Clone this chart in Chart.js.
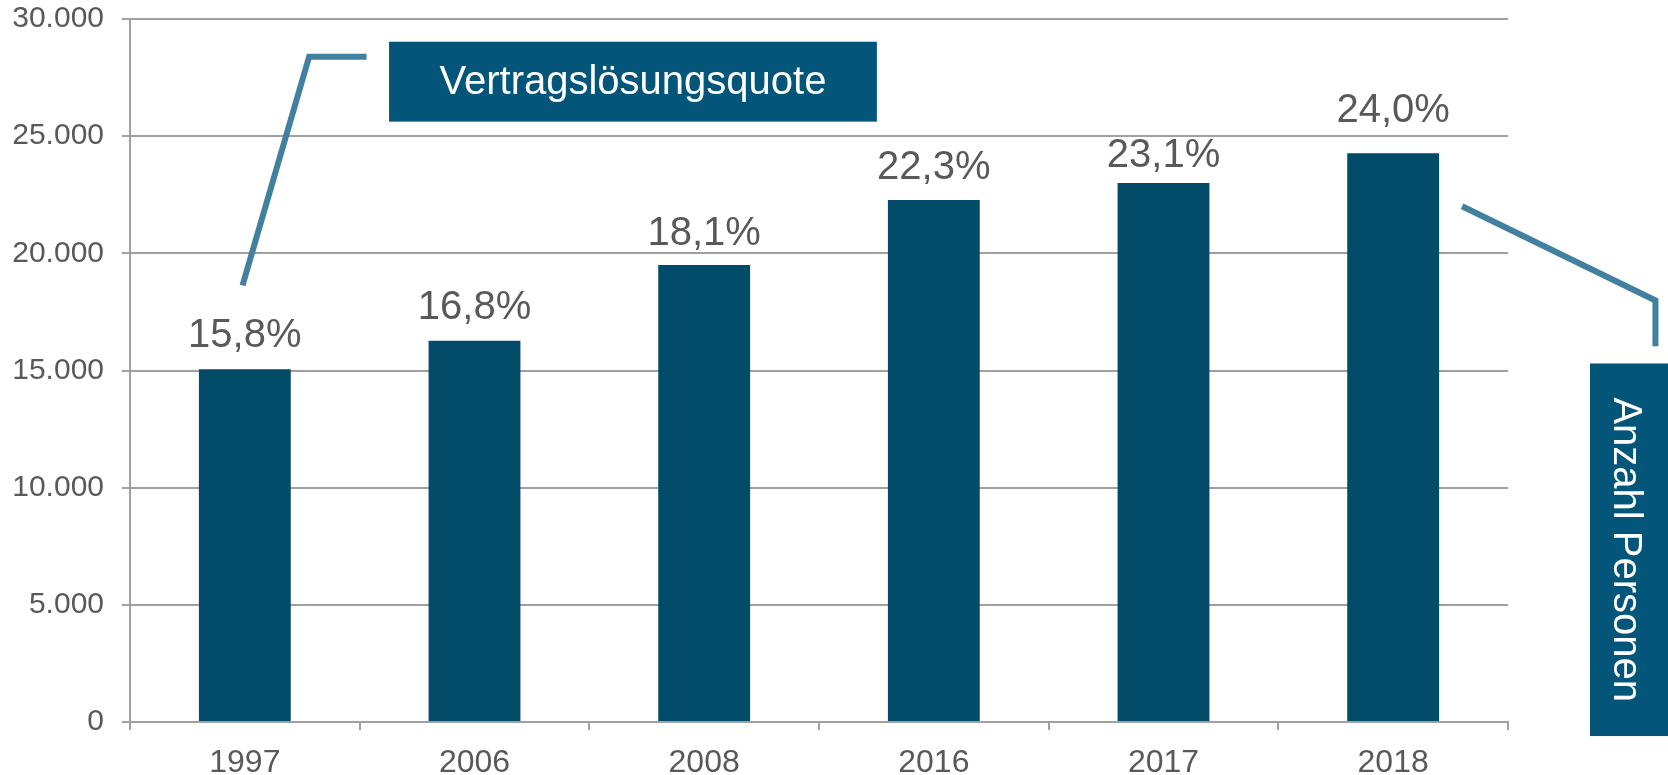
<!DOCTYPE html>
<html>
<head>
<meta charset="utf-8">
<script src="https://cdn.jsdelivr.net/npm/chart.js@4.4.1/dist/chart.umd.min.js"></script>
<style>
  html, body { margin: 0; padding: 0; background: #fff; }
  canvas { display: block; }
</style>
</head>
<body>
<canvas id="chart" width="1668" height="775"></canvas>
<script>
var jahre = ['1997', '2006', '2008', '2016', '2017', '2018'];
var anzahlPersonen = [15050, 16270, 19500, 22280, 23000, 24270];
var quote = [15.8, 16.8, 18.1, 22.3, 23.1, 24.0];
var yTicks = [0, 5000, 10000, 15000, 20000, 25000, 30000];

var FONT = '"Liberation Sans", Arial, sans-serif';
var GRAU = '#a0a0a0';

// Prozentwerte ueber den Balken
var quotenLabels = {
    id: 'quotenLabels',
    afterDatasetsDraw: function (chart, args, opts) {
        var ctx = chart.ctx;
        var meta = chart.getDatasetMeta(0);
        ctx.save();
        ctx.font = '40px ' + FONT;
        ctx.fillStyle = '#595959';
        ctx.textAlign = 'center';
        ctx.textBaseline = 'alphabetic';
        meta.data.forEach(function (bar, i) {
            var txt = quote[i].toFixed(1).replace('.', ',') + '%';
            ctx.fillText(txt, bar.x, bar.y - opts.gap[i]);
        });
        ctx.restore();
    }
};

// Beschriftungskaesten mit Linien
var callouts = {
    id: 'callouts',
    afterDraw: function (chart) {
        var ctx = chart.ctx;
        var x = chart.scales.x, y = chart.scales.y;
        function px(i) { return x.getPixelForValue(i); }
        function py(v) { return y.getPixelForValue(v); }

        ctx.save();
        ctx.strokeStyle = '#41809f';
        ctx.lineWidth = 6;
        ctx.lineJoin = 'miter';

        ctx.beginPath();
        ctx.moveTo(px(-0.01), py(18630));
        ctx.lineTo(px(0.28), py(28390));
        ctx.lineTo(px(0.53), py(28390));
        ctx.stroke();

        ctx.beginPath();
        ctx.moveTo(px(5.30), py(22010));
        ctx.lineTo(px(6.142), py(17990));
        ctx.lineTo(px(6.142), py(16040));
        ctx.stroke();

        ctx.fillStyle = '#03567a';
        var bx1 = px(0.628), bx2 = px(2.752), by1 = py(29030), by2 = py(25620);
        ctx.fillRect(bx1, by1, bx2 - bx1, by2 - by1);

        var cx1 = px(5.857), cy1 = py(15300), cy2 = py(-600);
        ctx.fillRect(cx1, cy1, chart.width - cx1, cy2 - cy1);

        ctx.fillStyle = '#ffffff';
        ctx.font = '40px ' + FONT;
        ctx.textAlign = 'center';
        ctx.textBaseline = 'middle';
        ctx.fillText('Vertragslösungsquote', (bx1 + bx2) / 2, (by1 + by2) / 2 + 1);

        ctx.translate((cx1 + chart.width) / 2 - 4, (cy1 + cy2) / 2);
        ctx.rotate(Math.PI / 2);
        ctx.fillText('Anzahl Personen', 0, 0);
        ctx.restore();
    }
};

var ctx = document.getElementById('chart').getContext('2d');
new Chart(ctx, {
    type: 'bar',
    data: {
        labels: jahre,
        datasets: [{
            label: 'Anzahl Personen',
            data: anzahlPersonen,
            backgroundColor: '#024c6a',
            categoryPercentage: 1,
            barPercentage: 0.4
        }]
    },
    options: {
        responsive: false,
        animation: false,
        devicePixelRatio: 1,
        layout: { padding: { left: 0, right: 160, top: 19, bottom: 0 } },
        plugins: {
            legend: { display: false },
            tooltip: { enabled: false },
            quotenLabels: { gap: [22, 22, 20, 21, 16, 31] }
        },
        scales: {
            x: {
                afterFit: function (scale) {
                    scale.height = 53;
                    scale.paddingLeft = 0;
                    scale.paddingRight = 0;
                },
                grid: {
                    drawOnChartArea: false,
                    color: GRAU,
                    lineWidth: 2,
                    tickLength: 8
                },
                border: { color: GRAU, width: 2 },
                ticks: {
                    color: '#595959',
                    font: { size: 32, family: FONT },
                    padding: 14
                }
            },
            y: {
                min: 0,
                max: 30000,
                afterFit: function (scale) {
                    scale.width = 130;
                    scale.paddingTop = 0;
                    scale.paddingBottom = 0;
                },
                afterBuildTicks: function (axis) {
                    axis.ticks = yTicks.map(function (v) { return { value: v }; });
                },
                grid: { color: GRAU, lineWidth: 2, tickLength: 8 },
                border: { color: GRAU, width: 2 },
                ticks: {
                    color: '#595959',
                    font: { size: 30, family: FONT },
                    padding: 18,
                    callback: function (v) { return v.toLocaleString('de-DE'); }
                }
            }
        }
    },
    plugins: [quotenLabels, callouts]
});
</script>
</body>
</html>
